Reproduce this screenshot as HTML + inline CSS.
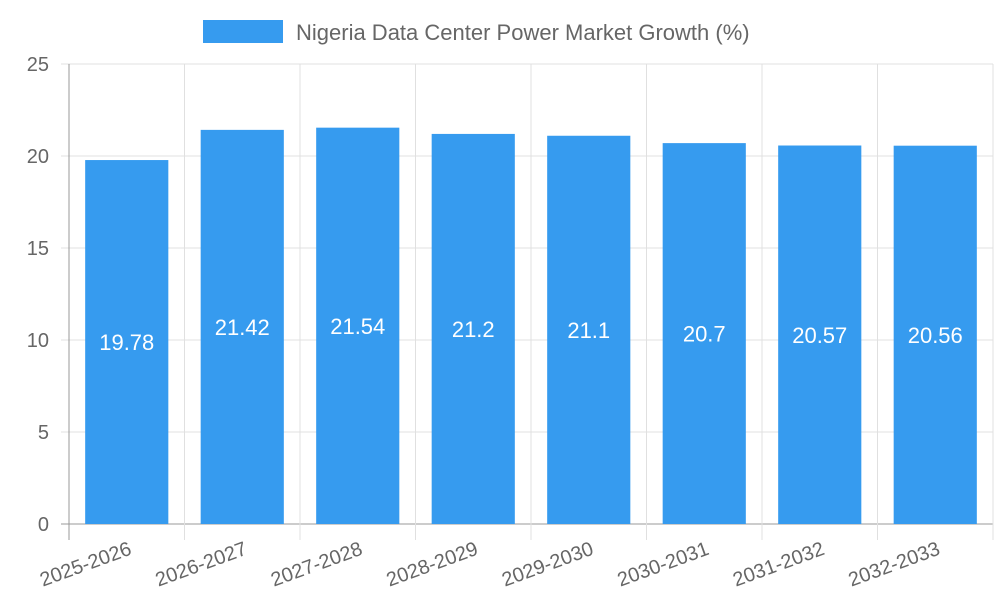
<!DOCTYPE html>
<html><head><meta charset="utf-8"><style>
body{margin:0;background:#fff;}
svg text{font-family:"Liberation Sans",sans-serif;}
</style></head><body>
<svg id="chart" width="1000" height="600" xmlns="http://www.w3.org/2000/svg">
<g>
<rect x="203" y="20" width="80" height="23" fill="#369bef"/>
<text x="296" y="40" font-size="22" fill="#666">Nigeria Data Center Power Market Growth (%)</text>
</g>
<g id="grid"></g>
<g id="bars"></g>
<g id="axes"></g>
</svg>
<script>
const categories=["2025-2026","2026-2027","2027-2028","2028-2029","2029-2030","2030-2031","2031-2032","2032-2033"];
const values=[19.78,21.42,21.54,21.2,21.1,20.7,20.57,20.56];
const yTicks=[0,5,10,15,20,25];
const L=69,R=993,T=64,B=524,yMax=25;
const ns="http://www.w3.org/2000/svg";
const bw=(R-L)/categories.length;
const y=v=>B-(v/yMax)*(B-T);
const x=i=>L+i*bw;
function mk(p,tag,a,txt){const e=document.createElementNS(ns,tag);for(const k in a)e.setAttribute(k,a[k]);if(txt!==undefined)e.textContent=txt;p.appendChild(e);return e;}
const grid=document.getElementById('grid'),bars=document.getElementById('bars'),axes=document.getElementById('axes');
yTicks.forEach(t=>{
  const l=mk(grid,'line',{x1:L-8,x2:R,y1:y(t),y2:y(t),stroke:t===0?'#999':'#e0e0e0','stroke-width':1});
  
  
  const tx=mk(axes,'text',{x:L-20,y:y(t)+7,'text-anchor':'end','font-size':20,fill:'#666'},String(t));
  
  
});
for(let i=0;i<=categories.length;i++){
  const l=mk(grid,'line',{x1:x(i),x2:x(i),y1:T,y2:B+16,stroke:i===0?'#999':'#e0e0e0','stroke-width':1});
  
  
}
categories.forEach((c,i)=>{
  const w=bw*0.72,bx=x(i)+(bw-w)/2,top=y(values[i]);
  const r=mk(bars,'rect',{x:bx,y:top,width:w,height:B-top,fill:'#369bef'});
  
  
  const vt=mk(bars,'text',{x:bx+w/2,y:(top+B)/2+8,'text-anchor':'middle','font-size':22,fill:'#fff'},String(values[i]));
  
  
  const cx=x(i)+bw/2+6,cy=B+30;
  const lt=mk(axes,'text',{x:cx,y:cy,'text-anchor':'end','font-size':20,fill:'#666',transform:`rotate(-20 ${cx} ${cy})`},c);
  
  
});
</script>
</body></html>
